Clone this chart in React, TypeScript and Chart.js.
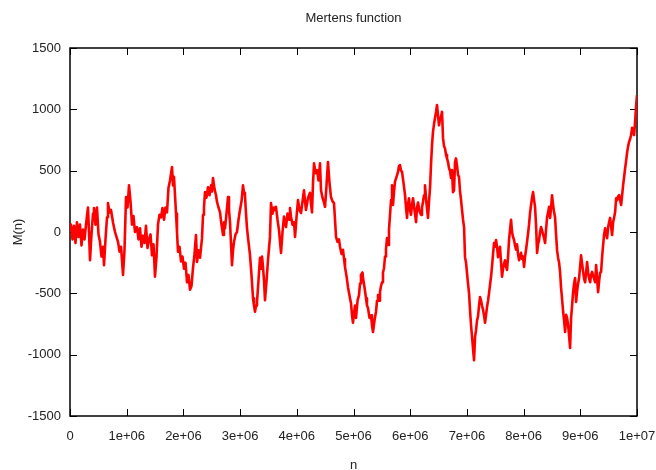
import React, { useEffect, useRef } from 'react';
import { Chart, registerables } from 'chart.js';

Chart.register(...registerables);

const TITLE = 'Mertens function';
const X_LABEL = 'n';
const Y_LABEL = 'M(n)';

const X_TICKS = [0, 1000000, 2000000, 3000000, 4000000, 5000000, 6000000, 7000000, 8000000, 9000000, 10000000];
const X_TICK_LABELS = ['0', '1e+06', '2e+06', '3e+06', '4e+06', '5e+06', '6e+06', '7e+06', '8e+06', '9e+06', '1e+07'];
const Y_TICKS = [-1500, -1000, -500, 0, 500, 1000, 1500];
const Y_TICK_LABELS = ['-1500', '-1000', '-500', '0', '500', '1000', '1500'];

// n values (x)
const N_VALUES = [
  0, 17600, 44000, 70500, 97000, 123000, 150000, 176000, 203000, 229000,
  256000, 282000, 317000, 335000, 353000, 379000, 406000, 423000, 450000, 476000,
  503000, 529000, 556000, 582000, 600000, 626000, 653000, 670000, 697000, 723000,
  758000, 794000, 820000, 847000, 873000, 900000, 935000, 961000, 988000, 1014000,
  1041000, 1067000, 1094000, 1120000, 1146000, 1182000, 1208000, 1235000, 1261000, 1287000,
  1314000, 1340000, 1367000, 1393000, 1420000, 1446000, 1473000, 1499000, 1526000, 1552000,
  1578000, 1605000, 1631000, 1658000, 1684000, 1711000, 1737000, 1764000, 1799000, 1817000,
  1834000, 1852000, 1870000, 1887000, 1905000, 1931000, 1958000, 1984000, 2011000, 2037000,
  2064000, 2090000, 2116000, 2143000, 2169000, 2196000, 2222000, 2240000, 2266000, 2293000,
  2328000, 2346000, 2363000, 2381000, 2407000, 2434000, 2460000, 2487000, 2504000, 2522000,
  2549000, 2575000, 2593000, 2619000, 2646000, 2672000, 2699000, 2716000, 2734000, 2760000,
  2787000, 2804000, 2822000, 2840000, 2857000, 2875000, 2893000, 2919000, 2945000, 2972000,
  2998000, 3025000, 3051000, 3069000, 3086000, 3104000, 3122000, 3148000, 3175000, 3201000,
  3228000, 3245000, 3263000, 3281000, 3298000, 3325000, 3351000, 3369000, 3387000, 3404000,
  3422000, 3439000, 3466000, 3492000, 3527000, 3545000, 3571000, 3598000, 3616000, 3633000,
  3660000, 3686000, 3704000, 3722000, 3748000, 3774000, 3792000, 3810000, 3836000, 3863000,
  3880000, 3898000, 3924000, 3951000, 3969000, 3995000, 4021000, 4048000, 4074000, 4101000,
  4127000, 4145000, 4162000, 4198000, 4233000, 4251000, 4268000, 4286000, 4304000, 4330000,
  4357000, 4383000, 4409000, 4427000, 4453000, 4480000, 4498000, 4524000, 4550000, 4577000,
  4603000, 4630000, 4656000, 4674000, 4692000, 4718000, 4744000, 4762000, 4789000, 4815000,
  4833000, 4850000, 4877000, 4903000, 4930000, 4956000, 4974000, 4991000, 5009000, 5027000,
  5044000, 5071000, 5097000, 5115000, 5132000, 5159000, 5168000, 5194000, 5221000, 5238000,
  5256000, 5282000, 5309000, 5326000, 5344000, 5371000, 5397000, 5415000, 5432000, 5450000,
  5467000, 5485000, 5503000, 5520000, 5538000, 5556000, 5573000, 5591000, 5609000, 5626000,
  5644000, 5662000, 5679000, 5697000, 5715000, 5732000, 5759000, 5785000, 5803000, 5820000,
  5838000, 5856000, 5882000, 5909000, 5926000, 5944000, 5962000, 5979000, 5997000, 6014000,
  6032000, 6050000, 6076000, 6103000, 6120000, 6138000, 6164000, 6191000, 6208000, 6226000,
  6244000, 6261000, 6288000, 6314000, 6332000, 6350000, 6367000, 6385000, 6403000, 6420000,
  6438000, 6456000, 6473000, 6491000, 6508000, 6526000, 6544000, 6561000, 6579000, 6597000,
  6614000, 6632000, 6649000, 6667000, 6685000, 6702000, 6720000, 6738000, 6755000, 6773000,
  6791000, 6808000, 6826000, 6844000, 6861000, 6879000, 6897000, 6914000, 6932000, 6950000,
  6967000, 6985000, 7002000, 7020000, 7038000, 7055000, 7073000, 7091000, 7108000, 7126000,
  7144000, 7161000, 7179000, 7196000, 7214000, 7232000, 7249000, 7267000, 7285000, 7302000,
  7320000, 7337000, 7355000, 7373000, 7390000, 7408000, 7426000, 7443000, 7461000, 7478000,
  7496000, 7514000, 7531000, 7549000, 7567000, 7584000, 7602000, 7620000, 7637000, 7655000,
  7673000, 7690000, 7708000, 7726000, 7743000, 7761000, 7779000, 7796000, 7814000, 7832000,
  7849000, 7867000, 7885000, 7902000, 7920000, 7937000, 7955000, 7973000, 7990000, 8008000,
  8026000, 8043000, 8061000, 8079000, 8096000, 8114000, 8132000, 8149000, 8167000, 8185000,
  8202000, 8220000, 8238000, 8255000, 8273000, 8290000, 8308000, 8326000, 8343000, 8361000,
  8379000, 8396000, 8414000, 8432000, 8449000, 8467000, 8485000, 8502000, 8520000, 8538000,
  8555000, 8573000, 8591000, 8608000, 8626000, 8644000, 8661000, 8679000, 8697000, 8714000,
  8732000, 8750000, 8767000, 8785000, 8803000, 8820000, 8838000, 8855000, 8873000, 8891000,
  8908000, 8926000, 8944000, 8961000, 8979000, 8997000, 9014000, 9032000, 9050000, 9067000,
  9085000, 9103000, 9120000, 9138000, 9156000, 9173000, 9191000, 9208000, 9226000, 9244000,
  9261000, 9279000, 9297000, 9314000, 9332000, 9350000, 9367000, 9385000, 9403000, 9420000,
  9438000, 9455000, 9473000, 9491000, 9508000, 9526000, 9544000, 9561000, 9579000, 9597000,
  9614000, 9632000, 9650000, 9667000, 9685000, 9702000, 9720000, 9738000, 9755000, 9773000,
  9791000, 9808000, 9826000, 9844000, 9861000, 9879000, 9896000, 9914000, 9932000, 9949000,
  9967000, 9985000, 10000000,
];

// M(n) values (y)
const M_VALUES = [
  20, 60, -60, 50, -90, 80, -40, 60, -110, 20,
  -60, 60, 200, 0, -230, -20, 150, 195, 60, 200,
  -20, -80, -200, -120, -270, -60, 120, 235, 160, 180,
  80, 0, -40, -80, -160, -120, -350, -150, 285, 200,
  380, 250, 60, 130, 0, 40, -60, 30, -120, -30,
  -90, 50, -130, -60, -20, -190, -100, -365, -200, 60,
  140, 120, 195, 100, 200, 160, 360, 420, 530, 380,
  450, 300, 150, 0, -160, -120, -240, -200, -300, -250,
  -410, -350, -470, -440, -295, -180, -25, -245, -150, -210,
  -50, 140, 200, 325, 280, 365, 300, 380, 330, 440,
  350, 300, 245, 200, 160, 60, -25, 80, 30, 150,
  285, 180, 80, -100, -270, -150, -80, -20, 0, 100,
  180, 250, 380, 320, 300, 150, 30, -80, -190, -350,
  -540, -600, -650, -600, -570, -390, -210, -300, -200, -285,
  -400, -555, -400, -230, -40, 235, 150, 200, 180, 205,
  100, 15, -80, -170, 0, 125, 80, 40, 150, 100,
  195, 125, 60, 80, -40, 120, 260, 180, 155, 250,
  340, 250, 180, 280, 320, 230, 160, 400, 560, 480,
  505, 420, 560, 340, 280, 240, 205, 380, 570, 400,
  285, 250, 235, 100, -40, -80, -60, -120, -180, -145,
  -220, -285, -360, -450, -520, -580, -680, -740, -660, -600,
  -700, -560, -515, -420, -350, -330, -375, -450, -540, -600,
  -620, -700, -680, -760, -815, -720, -650, -560, -515, -560,
  -490, -440, -410, -330, -295, -200, -140, -50, -105, 20,
  140, 260, 380, 220, 330, 410, 450, 490, 540, 545,
  500, 490, 400, 300, 200, 115, 230, 275, 180, 140,
  220, 275, 180, 80, 200, 240, 170, 140, 200, 245,
  300, 380, 230, 115, 250, 360, 550, 710, 820, 880,
  930, 980, 1035, 950, 870, 920, 940, 980, 765, 700,
  680, 630, 600, 570, 520, 500, 440, 505, 325, 340,
  570, 600, 540, 465, 450, 330, 260, 180, 100, 40,
  -205, -250, -335, -420, -500, -635, -760, -855, -950, -1045,
  -855, -800, -720, -690, -600, -530, -560, -600, -635, -680,
  -740, -680, -610, -560, -500, -430, -365, -280, -180, -90,
  -120, -65, -120, -205, -150, -120, -250, -365, -300, -260,
  -230, -280, -310, -200, -65, 20, 100, 0, -40, -65,
  -110, -145, -100, -180, -230, -200, -170, -220, -200, -285,
  -200, -145, -80, -10, 60, 155, 220, 280, 325, 260,
  205, 50, -170, -100, -65, 0, 40, 15, -20, -50,
  -90, 20, 120, 160, 205, 115, 200, 300, 220, 160,
  120, -25, -150, -210, -250, -330, -455, -550, -650, -720,
  -815, -675, -700, -760, -850, -945, -700, -600, -490, -420,
  -375, -570, -480, -420, -375, -280, -190, -260, -325, -380,
  -410, -330, -245, -330, -380, -410, -350, -325, -360, -380,
  -410, -270, -380, -490, -400, -330, -325, -200, -105, -20,
  30, -10, -50, 40, 80, 115, 40, -25, 80, 120,
  160, 275, 260, 290, 300, 260, 220, 300, 380, 450,
  520, 580, 650, 700, 735, 760, 790, 850, 830, 790,
  900, 1035, 1115,
];

const FONT_FAMILY = "'Liberation Sans', Arial, sans-serif";
const TEXT_COLOR = '#222';

const framePlugin = {
  id: 'gnuplotFrame',
  beforeDatasetsDraw(chart: any) {
    const { ctx, chartArea: a, scales } = chart;
    const len = 7;
    ctx.save();
    // title, centred over the plot area like gnuplot
    ctx.fillStyle = TEXT_COLOR;
    ctx.font = `normal 13px ${FONT_FAMILY}`;
    ctx.textAlign = 'center';
    ctx.textBaseline = 'middle';
    ctx.fillText(TITLE, (a.left + a.right) / 2, 18);
    // inward ticks on all four sides
    ctx.strokeStyle = '#000';
    ctx.lineWidth = 1;
    ctx.beginPath();
    X_TICKS.forEach((v) => {
      const x = Math.round(scales.x.getPixelForValue(v)) + 0.5;
      ctx.moveTo(x, a.bottom);
      ctx.lineTo(x, a.bottom - len);
      ctx.moveTo(x, a.top);
      ctx.lineTo(x, a.top + len);
    });
    Y_TICKS.forEach((v) => {
      const y = Math.round(scales.y.getPixelForValue(v)) + 0.5;
      ctx.moveTo(a.left, y);
      ctx.lineTo(a.left + len, y);
      ctx.moveTo(a.right, y);
      ctx.lineTo(a.right - len, y);
    });
    ctx.stroke();
    ctx.lineWidth = 1.5;
    ctx.strokeRect(a.left, a.top, a.right - a.left, a.bottom - a.top);
    ctx.restore();
  },
};

export default function App() {
  const canvasRef = useRef<HTMLCanvasElement | null>(null);

  useEffect(() => {
    const canvas = canvasRef.current;
    if (!canvas) return;
    const font = { family: FONT_FAMILY, size: 13, weight: 'normal' as const };
    const points = N_VALUES.map((n, i) => ({ x: n, y: M_VALUES[i] }));
    const chart = new Chart(canvas, {
      type: 'line',
      data: {
        datasets: [
          {
            label: 'M(n)',
            data: points,
            borderColor: '#ff0000',
            borderWidth: 2.6,
            pointRadius: 0,
            tension: 0,
            fill: false,
            borderJoinStyle: 'round',
          },
        ],
      },
      options: {
        animation: false,
        responsive: false,
        devicePixelRatio: 1,
        layout: { padding: { left: 0, right: 19, top: 48, bottom: 0 } },
        plugins: {
          legend: { display: false },
          tooltip: { enabled: false },
          title: { display: false },
        },
        scales: {
          x: {
            type: 'linear',
            min: 0,
            max: 10000000,
            afterBuildTicks: (s: any) => {
              s.ticks = X_TICKS.map((v) => ({ value: v }));
            },
            afterFit: (s: any) => {
              s.height = 54;
              s.paddingLeft = 0;
              s.paddingRight = 0;
            },
            grid: { display: false, drawTicks: false },
            border: { display: false },
            ticks: {
              autoSkip: false,
              maxRotation: 0,
              padding: 13,
              color: TEXT_COLOR,
              font,
              callback: (_v: any, i: number) => X_TICK_LABELS[i],
            },
            title: {
              display: true,
              text: X_LABEL,
              color: TEXT_COLOR,
              font,
              padding: { top: 0, bottom: -3 },
            },
          },
          y: {
            type: 'linear',
            min: -1500,
            max: 1500,
            afterBuildTicks: (s: any) => {
              s.ticks = Y_TICKS.map((v) => ({ value: v }));
            },
            afterFit: (s: any) => {
              s.width = 70;
              s.paddingTop = 0;
              s.paddingBottom = 0;
            },
            grid: { display: false, drawTicks: false },
            border: { display: false },
            ticks: {
              autoSkip: false,
              padding: 9,
              color: TEXT_COLOR,
              font,
              callback: (_v: any, i: number) => Y_TICK_LABELS[i],
            },
            title: {
              display: true,
              text: Y_LABEL,
              color: TEXT_COLOR,
              font,
              padding: { top: 11, bottom: 0 },
            },
          },
        },
      },
      plugins: [framePlugin],
    });
    return () => chart.destroy();
  }, []);

  return (
    <div style={{ position: 'fixed', left: 0, top: 0, width: 656, height: 470, background: '#fff' }}>
      <canvas ref={canvasRef} width={656} height={470} style={{ display: 'block', width: 656, height: 470 }} />
    </div>
  );
}
